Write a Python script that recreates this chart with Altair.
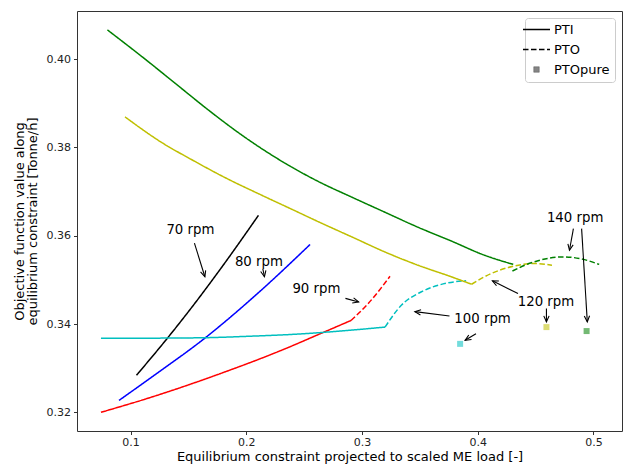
import math
import altair as alt
import pandas as pd

# ---------------- data ----------------
x70_pti = [0.1051, 0.130, 0.155, 0.180, 0.2105]
y70_pti = [0.3284, 0.3362, 0.3445, 0.3533, 0.3646]
x80_pti = [0.0900, 0.120, 0.1642, 0.2114, 0.2551]
y80_pti = [0.3227, 0.3283, 0.3368, 0.3473, 0.3580]
x90_pti = [0.0744, 0.120, 0.180, 0.230, 0.2657, 0.2905]
y90_pti = [0.3200, 0.3236, 0.3290, 0.3340, 0.3380, 0.3408]
x90_pto = [0.2905, 0.3056, 0.3242]
y90_pto = [0.3408, 0.3447, 0.3508]
x100_pti = [0.0744, 0.120, 0.165, 0.200, 0.250, 0.2857, 0.3199]
y100_pti = [0.3368, 0.3368, 0.3369, 0.3372, 0.3378, 0.3385, 0.3393]
x100_pto = [0.3199, 0.3342, 0.3514, 0.3742, 0.3900]
y100_pto = [0.3393, 0.3443, 0.3473, 0.3493, 0.3498]
x120_pti = [0.0952, 0.1257, 0.1543, 0.1828, 0.2114, 0.2400, 0.2628, 0.2914, 0.3199, 0.3485, 0.3771, 0.3947]
y120_pti = [0.3869, 0.3813, 0.3770, 0.3730, 0.3694, 0.3659, 0.3631, 0.3597, 0.3563, 0.3533, 0.3507, 0.3490]
x120_pto = [0.3947, 0.4114, 0.4313, 0.4485, 0.4642]
y120_pto = [0.3490, 0.3514, 0.3531, 0.3537, 0.3533]
x140_pti = [0.0800, 0.1115, 0.1400, 0.1685, 0.1971, 0.2342, 0.2628, 0.2914, 0.3199, 0.3485, 0.3771, 0.4056, 0.4307]
y140_pti = [0.4066, 0.4002, 0.3942, 0.3882, 0.3826, 0.3763, 0.3722, 0.3687, 0.3653, 0.3619, 0.3588, 0.3556, 0.3535]
x140_pto = [0.4300, 0.4456, 0.4742, 0.4885, 0.5050]
y140_pto = [0.3520, 0.3538, 0.3552, 0.3548, 0.3535]

pure_series = ["100 rpm", "120 rpm", "140 rpm"]
pure_x = [0.3848, 0.4594, 0.4941]
pure_y = [0.3355, 0.3393, 0.3384]

label_text = ["70 rpm", "80 rpm", "90 rpm", "100 rpm", "120 rpm", "140 rpm"]
label_x = [0.1517, 0.2109, 0.2606, 0.4042, 0.4590, 0.4842]
label_y = [0.3612, 0.3541, 0.3480, 0.3411, 0.3450, 0.3640]

arrow_x0 = [0.1552, 0.2143, 0.2857, 0.3756, 0.3985, 0.4348, 0.4594, 0.4827, 0.4898]
arrow_y0 = [0.3583, 0.3525, 0.3458, 0.3418, 0.3378, 0.3469, 0.3435, 0.3616, 0.3616]
arrow_x1 = [0.1642, 0.2157, 0.2971, 0.3457, 0.3891, 0.4127, 0.4594, 0.4793, 0.4947]
arrow_y1 = [0.3507, 0.3507, 0.3450, 0.3428, 0.3363, 0.3498, 0.3405, 0.3567, 0.3405]

series_names = ["70 rpm", "80 rpm", "90 rpm", "100 rpm", "120 rpm", "140 rpm"]
series_colors = ["#000000", "#0000ff", "#ff0000", "#00bfbf", "#bfbf00", "#008000"]

# ---------------- tables ----------------
curves = [
    ("70 rpm", "PTI", x70_pti, y70_pti),
    ("80 rpm", "PTI", x80_pti, y80_pti),
    ("90 rpm", "PTI", x90_pti, y90_pti),
    ("90 rpm", "PTO", x90_pto, y90_pto),
    ("100 rpm", "PTI", x100_pti, y100_pti),
    ("100 rpm", "PTO", x100_pto, y100_pto),
    ("120 rpm", "PTI", x120_pti, y120_pti),
    ("120 rpm", "PTO", x120_pto, y120_pto),
    ("140 rpm", "PTI", x140_pti, y140_pti),
    ("140 rpm", "PTO", x140_pto, y140_pto),
]
rows = []
for s, m, xs, ys in curves:
    for i, (xv, yv) in enumerate(zip(xs, ys)):
        rows.append({"series": s, "mode": m, "key": s + m, "i": i, "x": xv, "y": yv})
lines_df = pd.DataFrame(rows)

pure_df = pd.DataFrame({"series": pure_series, "mode": "PTOpure", "x": pure_x, "y": pure_y})
labels_df = pd.DataFrame({"text": label_text, "x": label_x, "y": label_y})

XMIN, XMAX = 0.0537, 0.5247
YMIN, YMAX = 0.31577, 0.41088
W, H = 545, 420

pxx = W / (XMAX - XMIN)
pxy = H / (YMAX - YMIN)
angles = []
for a, b, c, d in zip(arrow_x0, arrow_y0, arrow_x1, arrow_y1):
    angles.append(math.degrees(math.atan2((c - a) * pxx, (d - b) * pxy)) % 360)
arrows_df = pd.DataFrame({"x0": arrow_x0, "y0": arrow_y0, "x1": arrow_x1, "y1": arrow_y1, "angle": angles})

# ---------------- chart ----------------
xscale = alt.Scale(domain=[XMIN, XMAX], nice=False, zero=False)
yscale = alt.Scale(domain=[YMIN, YMAX], nice=False, zero=False)
xax = alt.Axis(title="Equilibrium constraint projected to scaled ME load [-]",
               values=[0.1, 0.2, 0.3, 0.4, 0.5], format=".1f")
yax = alt.Axis(title=["Objective function value along", "equilibrium constraint [Tonne/h]"],
               values=[0.32, 0.34, 0.36, 0.38, 0.40], format=".2f")

color_scale = alt.Scale(domain=series_names, range=series_colors)
dash_scale = alt.Scale(domain=["PTI", "PTO", "PTOpure"], range=[[1, 0], [5.5, 2.5], [1, 0]])

legend = {
    "title": None, "orient": "top-right", "offset": 7, "padding": 5,
    "strokeColor": "#cccccc", "fillColor": "white", "cornerRadius": 3,
    "symbolSize": 729, "symbolStrokeColor": "black", "symbolStrokeWidth": 1.5,
    "labelFontSize": 13, "labelFont": "DejaVu Sans", "labelOffset": 11, "rowPadding": 6,
    "encode": {"symbols": {"update": {
        "shape": {"signal": "datum.value === 'PTOpure' ? 'square' : 'stroke'"},
        "fill": {"signal": "datum.value === 'PTOpure' ? '#666666' : 'transparent'"},
        "stroke": {"signal": "datum.value === 'PTOpure' ? '#555555' : '#000000'"},
        "strokeWidth": {"signal": "datum.value === 'PTOpure' ? 0.5 : 1.5"},
        "size": {"signal": "datum.value === 'PTOpure' ? 30 : 729"},
        "opacity": {"value": 1},
        "fillOpacity": {"value": 0.8},
    }}},
}

lines = alt.Chart(lines_df).mark_line(strokeWidth=1.5, interpolate="monotone").encode(
    x=alt.X("x:Q", scale=xscale, axis=xax),
    y=alt.Y("y:Q", scale=yscale, axis=yax),
    color=alt.Color("series:N", scale=color_scale, legend=None),
    strokeDash=alt.StrokeDash("mode:N", scale=dash_scale, legend=legend),
    detail="key:N",
    order="i:Q",
)

squares = alt.Chart(pure_df).mark_square(size=36, opacity=0.55, filled=True).encode(
    x="x:Q", y="y:Q",
    color=alt.Color("series:N", scale=color_scale, legend=None),
    strokeDash=alt.StrokeDash("mode:N", scale=dash_scale, legend=legend),
)

texts = alt.Chart(labels_df).mark_text(fontSize=13.3, font="DejaVu Sans", color="black").encode(
    x="x:Q", y="y:Q", text="text:N"
)

rules = alt.Chart(arrows_df).mark_rule(color="black", strokeWidth=1.1).encode(
    x="x0:Q", y="y0:Q", x2="x1:Q", y2="y1:Q"
)

heads = alt.Chart(arrows_df).mark_point(
    shape="M-0.45,1L0,0L0.45,1", size=140, filled=False, color="black", strokeWidth=1.1, opacity=1
).encode(x="x1:Q", y="y1:Q", angle=alt.Angle("angle:Q", scale=None))

chart = alt.layer(lines, squares, rules, heads, texts).properties(
    width=W, height=H,
    autosize=alt.AutoSizeParams(type="none"),
    padding={"left": 69, "top": 3, "right": 1, "bottom": 33},
).configure_view(
    stroke="#333333", strokeWidth=1
).configure_axis(
    grid=False, domain=False, tickColor="#333333", tickSize=3.5,
    labelFont="DejaVu Sans", labelFontSize=11, labelColor="#222222", labelPadding=1.5,
    titleFont="DejaVu Sans", titleFontSize=13, titleFontWeight="normal", titleColor="black",
).configure_axisY(titlePadding=7, titleLineHeight=13, labelPadding=3).configure_axisX(titlePadding=3)

# legend "encode" is supported by the Vega-Lite compiler but hidden from its JSON schema
_orig_to_dict = alt.LayerChart.to_dict


def _to_dict_no_validate(self, *args, **kwargs):
    kwargs["validate"] = False
    return _orig_to_dict(self, *args, **kwargs)


alt.LayerChart.to_dict = _to_dict_no_validate

chart.save("out.html", embed_options={"renderer": "svg", "actions": False})
